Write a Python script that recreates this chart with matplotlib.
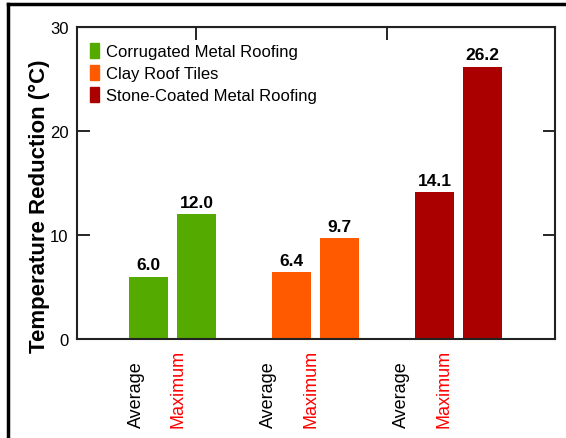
import matplotlib.pyplot as plt
import matplotlib.patches as mpatches
from matplotlib.lines import Line2D
import numpy as np

plt.rcParams['font.family'] = ['Liberation Sans', 'DejaVu Sans']

# roofing types and their temperature reductions (deg C)
materials = ['Corrugated Metal Roofing', 'Clay Roof Tiles', 'Stone-Coated Metal Roofing']
average = [6.0, 6.4, 14.1]
maximum = [12.0, 9.7, 26.2]
colors = ['#55aa00', '#ff5a00', '#aa0000']
stat_labels = ['Average', 'Maximum']
stat_colors = ['black', '#ff0000']

fig = plt.figure(figsize=(5.66, 4.39), dpi=100)
ax = fig.add_axes([0.136, 0.2255, 0.8446, 0.7107])

x = np.arange(len(materials))
width = 0.273
offset = 0.168

for i in range(len(materials)):
    for j, vals in enumerate([average, maximum]):
        xpos = x[i] + (2 * j - 1) * offset
        ax.bar(xpos, vals[i], width=width, color=colors[i], edgecolor='none')
        ax.text(xpos, vals[i] + 0.4, '%.1f' % vals[i], ha='center', va='bottom',
                fontsize=12.5, fontweight='bold')

# category labels under the axis, rotated
label_centers = 0.928 * x - 0.107
for i in range(len(materials)):
    for j in range(2):
        lx = label_centers[i] + (2 * j - 1) * 0.147
        ax.text(lx, -0.282, stat_labels[j], rotation=90, rotation_mode='anchor',
                ha='left', va='center', fontsize=13, color=stat_colors[j],
                transform=ax.get_xaxis_transform())

ax.set_xlim(-0.668, 2.675)
ax.set_ylim(0, 30)
ax.set_yticks([0, 10, 20, 30])
ax.set_xticks([])
ax.tick_params(axis='y', direction='in', length=9, width=1.2, right=True,
               labelsize=12, pad=6)
for s in ax.spines.values():
    s.set_linewidth(1.5)
    s.set_color('#222222')

top = ax.secondary_xaxis('top')
top.set_xticks([0.164, 1.50])
top.set_xticklabels([])
top.tick_params(direction='in', length=9, width=1.2)

ax.set_ylabel('Temperature Reduction (°C)', fontsize=16, fontweight='bold')
ax.yaxis.set_label_coords(-0.056, 0.43)

handles = [mpatches.Patch(color=c, label=m) for c, m in zip(colors, materials)]
ax.legend(handles=handles, loc='upper left', bbox_to_anchor=(0.027, 0.949),
          frameon=False, fontsize=12, handlelength=0.55, handleheight=1.0,
          handletextpad=0.4, labelspacing=0.35, borderpad=0, borderaxespad=0)

# partial outer frame
fig.add_artist(Line2D([0.0141, 1.0], [0.9897, 0.9897], color='black', lw=2.5,
                      transform=fig.transFigure))
fig.add_artist(Line2D([0.0141, 0.0141], [0.0, 0.9897], color='black', lw=2.5,
                      transform=fig.transFigure))

fig.savefig('out.png', dpi=100)
